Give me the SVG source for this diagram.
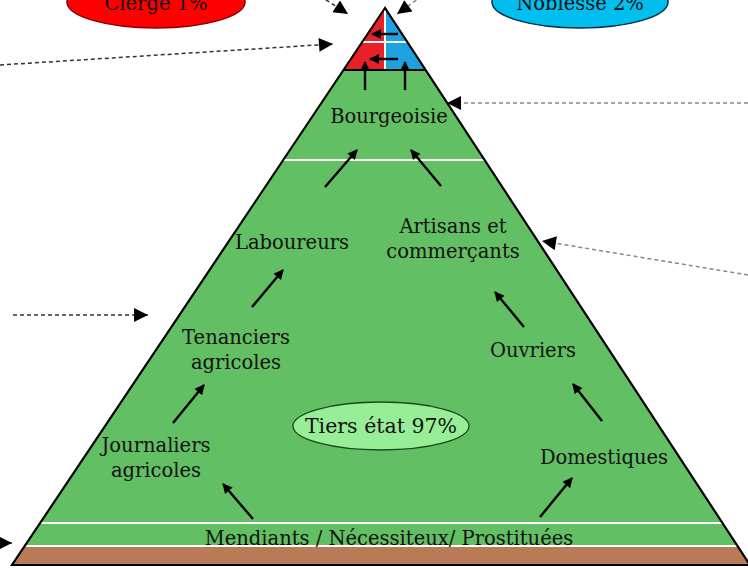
<svg xmlns="http://www.w3.org/2000/svg" width="748" height="568" viewBox="0 0 748 568">
<defs>
<style>
.lbl{font-family:"DejaVu Serif","Liberation Serif",serif;font-size:19.5px;fill:#111;text-anchor:middle}
.arr{stroke:#000;stroke-width:2.4;fill:none;marker-end:url(#h)}
.dash{stroke:#333;stroke-width:1.5;stroke-dasharray:4 3;fill:none;marker-end:url(#hd)}
.dashg{stroke:#888;stroke-width:1.5;stroke-dasharray:4 3;fill:none;marker-end:url(#hd)}
</style>
<marker id="h" viewBox="0 0 10 10" refX="9" refY="5" markerUnits="userSpaceOnUse" markerWidth="12" markerHeight="10" orient="auto"><path d="M0,0 L10,5 L0,10 Z" fill="#000"/></marker>
<marker id="hd" viewBox="0 0 10 10" refX="10" refY="5" markerUnits="userSpaceOnUse" markerWidth="18" markerHeight="14" orient="auto"><path d="M0,0 L10,5 L0,10 Z" fill="#000"/></marker>
</defs>
<rect width="748" height="568" fill="#fff"/>

<g id="pyramid">
<path d="M385,8 L12,565 L750,565 Z" fill="#63BF63"/>
<path d="M385,8 L343.5,70 L385,70 Z" fill="#E8202A"/>
<path d="M385,8 L425.6,70 L385,70 Z" fill="#1DA1DF"/>
<path d="M24,547 L738,547 L750,565 L12,565 Z" fill="#B97B57"/>
<line x1="385" y1="10" x2="385" y2="70" stroke="#fff" stroke-width="2"/>
<line x1="362" y1="42" x2="407" y2="42" stroke="#fff" stroke-width="2"/>
<line x1="283" y1="160" x2="484" y2="160" stroke="#fff" stroke-width="2"/>
<line x1="40" y1="523" x2="723" y2="523" stroke="#fff" stroke-width="2"/>
<line x1="25" y1="546" x2="737" y2="546" stroke="#fff" stroke-width="2"/>
<line x1="343.5" y1="70" x2="425.6" y2="70" stroke="#000" stroke-width="2"/>
<path d="M385,8 L12,565 L750,565 Z" fill="none" stroke="#000" stroke-width="2.2"/>
</g>

<g id="clerge">
<ellipse cx="156" cy="2" rx="89" ry="26" fill="#FF0000" stroke="#8B0000" stroke-width="1.5"/>
<text class="lbl" x="156" y="10">Clergé 1%</text>
</g>
<g id="noblesse">
<ellipse cx="580" cy="2" rx="88" ry="26" fill="#00BFEF" stroke="#00304A" stroke-width="1.5"/>
<text class="lbl" x="580" y="10">Noblesse 2%</text>
</g>
<g id="tiers">
<ellipse cx="381" cy="426" rx="88" ry="24" fill="#97EE97" stroke="#1a4a1a" stroke-width="1.3"/>
<text class="lbl" x="381" y="433" style="font-size:20.5px">Tiers état 97%</text>
</g>

<g id="bourgeoisie"><text class="lbl" x="389" y="123">Bourgeoisie</text></g>
<g id="laboureurs"><text class="lbl" x="292" y="249">Laboureurs</text></g>
<g id="artisans"><text class="lbl" x="453" y="233">Artisans et</text><text class="lbl" x="453" y="258">commerçants</text></g>
<g id="tenanciers"><text class="lbl" x="236" y="344">Tenanciers</text><text class="lbl" x="236" y="369">agricoles</text></g>
<g id="ouvriers"><text class="lbl" x="533" y="357">Ouvriers</text></g>
<g id="journaliers"><text class="lbl" x="156" y="452">Journaliers</text><text class="lbl" x="156" y="477">agricoles</text></g>
<g id="domestiques"><text class="lbl" x="604" y="464">Domestiques</text></g>
<g id="mendiants"><text class="lbl" x="389" y="545">Mendiants / Nécessiteux/ Prostituées</text></g>

<g id="connectors">
<line class="arr" x1="398" y1="34" x2="372" y2="34"/>
<line class="arr" x1="398" y1="59" x2="370" y2="59"/>
<line class="arr" x1="365" y1="90" x2="365" y2="62"/>
<line class="arr" x1="405" y1="90" x2="405" y2="62"/>
<line class="arr" x1="325" y1="187" x2="357" y2="150"/>
<line class="arr" x1="441" y1="186" x2="411" y2="150"/>
<line class="arr" x1="252" y1="307" x2="283" y2="270"/>
<line class="arr" x1="524" y1="327" x2="495" y2="292"/>
<line class="arr" x1="173" y1="423" x2="204" y2="385"/>
<line class="arr" x1="602" y1="421" x2="573" y2="384"/>
<line class="arr" x1="253" y1="519" x2="223" y2="484"/>
<line class="arr" x1="540" y1="517" x2="572" y2="478"/>
<line class="dash" x1="0" y1="65" x2="333" y2="44"/>
<line class="dash" x1="320" y1="-4" x2="348" y2="14"/>
<line class="dashg" x1="422" y1="-4" x2="397" y2="14"/>
<line class="dashg" x1="748" y1="103" x2="447" y2="103"/>
<line class="dashg" x1="748" y1="275" x2="542" y2="241"/>
<line class="dash" x1="13" y1="315" x2="148" y2="315"/>
<line class="dash" x1="-20" y1="543" x2="12" y2="543"/>
</g>
</svg>
